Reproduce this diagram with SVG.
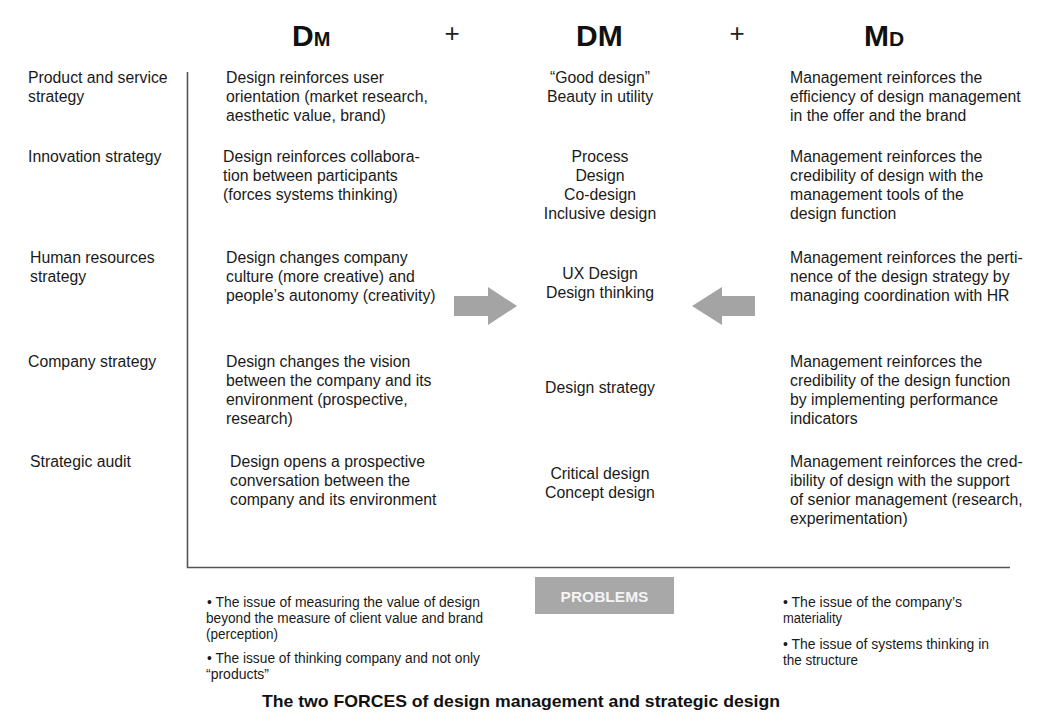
<svg xmlns="http://www.w3.org/2000/svg" width="1048" height="723" viewBox="0 0 1048 723">
<style>
.t{font-family:"Liberation Sans",Arial,sans-serif;font-size:15.8px;fill:#1a1a1a}
.c{text-anchor:middle}
.h{font-family:"Liberation Sans",Arial,sans-serif;font-weight:bold;fill:#111}
.p{font-family:"Liberation Sans",Arial,sans-serif;font-size:26px;fill:#222;text-anchor:middle}
.s{font-family:"Liberation Sans Narrow","Liberation Sans",Arial,sans-serif;font-size:14px;fill:#1a1a1a}
.ln{stroke:#555;stroke-width:1.6;fill:none}
.ar{fill:#a4a4a4}
</style>
<rect width="1048" height="723" fill="#ffffff"/>
<g id="headers">
<text class="h" x="292" y="46"><tspan font-size="30">D</tspan><tspan font-size="20">M</tspan></text>
<text class="p" x="452" y="42">+</text>
<text class="h" x="576" y="46" font-size="30">DM</text>
<text class="p" x="737" y="42">+</text>
<text class="h" x="864" y="46"><tspan font-size="30">M</tspan><tspan font-size="21">D</tspan></text>
</g>
<g id="labels" class="t">
<text x="28" y="83">Product and service</text>
<text x="28" y="102">strategy</text>
<text x="28" y="162">Innovation strategy</text>
<text x="30" y="263">Human resources</text>
<text x="30" y="282">strategy</text>
<text x="28" y="367">Company strategy</text>
<text x="30" y="467">Strategic audit</text>
</g>
<g id="dm-col" class="t">
<g id="dm-row1"><text x="226" y="83">Design reinforces user</text><text x="226" y="102">orientation (market research,</text><text x="226" y="121">aesthetic value, brand)</text></g>
<g id="dm-row2"><text x="223" y="162">Design reinforces collabora-</text><text x="223" y="181">tion between participants</text><text x="223" y="200">(forces systems thinking)</text></g>
<g id="dm-row3"><text x="226" y="263">Design changes company</text><text x="226" y="282">culture (more creative) and</text><text x="226" y="301">people’s autonomy (creativity)</text></g>
<g id="dm-row4"><text x="226" y="367">Design changes the vision</text><text x="226" y="386">between the company and its</text><text x="226" y="405">environment (prospective,</text><text x="226" y="424">research)</text></g>
<g id="dm-row5"><text x="230" y="467">Design opens a prospective</text><text x="230" y="486">conversation between the</text><text x="230" y="505">company and its environment</text></g>
</g>
<g id="mid-col" class="t c">
<g id="mid-row1"><text x="600" y="83">“Good design”</text><text x="600" y="102">Beauty in utility</text></g>
<g id="mid-row2"><text x="600" y="162">Process</text><text x="600" y="181">Design</text><text x="600" y="200">Co-design</text><text x="600" y="219">Inclusive design</text></g>
<g id="mid-row3"><text x="600" y="279">UX Design</text><text x="600" y="298">Design thinking</text></g>
<g id="mid-row4"><text x="600" y="393">Design strategy</text></g>
<g id="mid-row5"><text x="600" y="479">Critical design</text><text x="600" y="498">Concept design</text></g>
</g>
<g id="md-col" class="t">
<g id="md-row1"><text x="790" y="83">Management reinforces the</text><text x="790" y="102">efficiency of design management</text><text x="790" y="121">in the offer and the brand</text></g>
<g id="md-row2"><text x="790" y="162">Management reinforces the</text><text x="790" y="181">credibility of design with the</text><text x="790" y="200">management tools of the</text><text x="790" y="219">design function</text></g>
<g id="md-row3"><text x="790" y="263">Management reinforces the perti-</text><text x="790" y="282">nence of the design strategy by</text><text x="790" y="301">managing coordination with HR</text></g>
<g id="md-row4"><text x="790" y="367">Management reinforces the</text><text x="790" y="386">credibility of the design function</text><text x="790" y="405">by implementing performance</text><text x="790" y="424">indicators</text></g>
<g id="md-row5"><text x="790" y="467">Management reinforces the cred-</text><text x="790" y="486">ibility of design with the support</text><text x="790" y="505">of senior management (research,</text><text x="790" y="524">experimentation)</text></g>
</g>
<g id="connectors">
<path class="ln" d="M187.5 72 V567.5 H1010"/>
<polygon class="ar" points="454,296 488,296 488,287 517,306 488,325 488,316 454,316"/>
<polygon class="ar" points="755,296 722,296 722,287 692,306 722,325 722,316 755,316"/>
</g>
<g id="problems">
<rect x="535" y="577" width="139" height="37" fill="#a8a8a8"/>
<text x="604.5" y="602" font-family="Liberation Sans,Arial,sans-serif" font-weight="bold" font-size="15.5" fill="#f4f4f4" text-anchor="middle">PROBLEMS</text>
</g>
<g id="issues-left" class="s">
<text x="207" y="607" textLength="273" lengthAdjust="spacingAndGlyphs">• The issue of measuring the value of design</text>
<text x="206" y="623" textLength="277" lengthAdjust="spacingAndGlyphs">beyond the measure of client value and brand</text>
<text x="206" y="639" textLength="72" lengthAdjust="spacingAndGlyphs">(perception)</text>
<text x="207" y="663" textLength="273" lengthAdjust="spacingAndGlyphs">• The issue of thinking company and not only</text>
<text x="206" y="679" textLength="63" lengthAdjust="spacingAndGlyphs">“products”</text>
</g>
<g id="issues-right" class="s">
<text x="783" y="607" textLength="179" lengthAdjust="spacingAndGlyphs">• The issue of the company’s</text>
<text x="783" y="623" textLength="59" lengthAdjust="spacingAndGlyphs">materiality</text>
<text x="783" y="649" textLength="206" lengthAdjust="spacingAndGlyphs">• The issue of systems thinking in</text>
<text x="783" y="665" textLength="75" lengthAdjust="spacingAndGlyphs">the structure</text>
</g>
<g id="title">
<text x="262" y="707" font-family="Liberation Sans Narrow,Liberation Sans,Arial,sans-serif" font-weight="bold" font-size="17" fill="#111" textLength="518" lengthAdjust="spacingAndGlyphs">The two FORCES of design management and strategic design</text>
</g>
</svg>
